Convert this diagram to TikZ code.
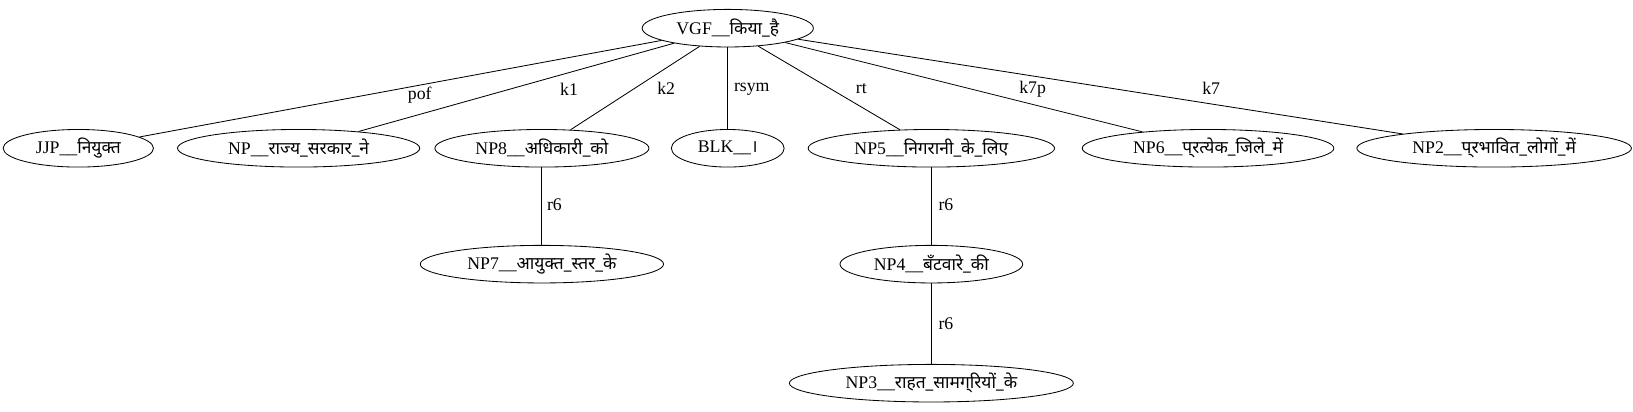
\documentclass[tikz,border=0pt]{standalone}
\usepackage{fontspec}
\setmainfont{Liberation Serif}
\newfontfamily\devfont[Script=Devanagari, Scale=0.98]{Noto Sans}
\newcommand{\dev}[1]{{\devfont #1}}
\usetikzlibrary{shapes.geometric}
\tikzstyle{tok} = [ellipse, draw, line width = 0.8pt, minimum height = 36pt, inner sep = 1pt, font = \fontsize{17}{19}\selectfont]
\tikzstyle{line} = [line width = 0.8pt]
\tikzstyle{rel} = [inner sep = 0pt, font = \fontsize{17}{19}\selectfont]

\begin{document}
\begin{tikzpicture}[x = 1pt, y = -1pt]
        \useasboundingbox (0,0) rectangle (1564,394);
        \node (JJP) [tok, minimum width = 144pt] at (75,142) {JJP\_\_\dev{नियुक्त}};
        \node (NP) [tok, right of = JJP, node distance = 211pt, minimum width = 232pt] {NP\_\_\dev{राज्य\_सरकार\_ने}};
        \node (NP8) [tok, right of = NP, node distance = 233pt, minimum width = 205pt] {NP8\_\_\dev{अधिकारी\_को}};
        \node (BLK) [tok, right of = NP8, node distance = 178pt, minimum width = 108pt] {BLK\_\_\dev{।}};
        \node (NP5) [tok, right of = BLK, node distance = 195pt, minimum width = 236pt] {NP5\_\_\dev{निगरानी\_के\_लिए}};
        \node (NP6) [tok, right of = NP5, node distance = 265pt, minimum width = 241pt] {NP6\_\_\dev{प्\kern0pt रत्येक\_जिले\_में}};
        \node (NP2) [tok, right of = NP6, node distance = 274pt, minimum width = 263pt] {NP2\_\_\dev{प्\kern0pt रभावित\_लोगों\_में}};
        \node (VGF) [tok, above of = BLK, node distance = 115pt, minimum width = 164pt] {VGF\_\_\dev{किया\_है}};
        \node (NP7) [tok, below of = NP8, node distance = 111pt, minimum width = 233pt] {NP7\_\_\dev{आयुक्त\_स्तर\_के}};
        \node (NP4) [tok, below of = NP5, node distance = 111pt, minimum width = 175pt] {NP4\_\_\dev{बँटवारे\_की}};
        \node (NP3) [tok, below of = NP4, node distance = 114pt, minimum width = 272pt] {NP3\_\_\dev{राहत\_सामग्\kern0pt रियों\_के}};
        % relations
        \draw[line] (VGF) -- (JJP);
        \draw[line] (VGF) -- (NP);
        \draw[line] (VGF) -- (NP8);
        \draw[line] (VGF) -- (BLK);
        \draw[line] (VGF) -- (NP5);
        \draw[line] (VGF) -- (NP6);
        \draw[line] (VGF) -- (NP2);
        \draw[line] (NP8) -- (NP7);
        \draw[line] (NP5) -- (NP4);
        \draw[line] (NP4) -- (NP3);
        % relation labels
        \node (lpof) [rel] at (402,91) {pof};
        \node (lkone) [rel] at (545,86) {k1};
        \node (lktwo) [rel] at (638,85) {k2};
        \node (lrsym) [rel] at (720,85) {rsym};
        \node (lrt) [rel] at (825,85) {rt};
        \node (lksevenp) [rel] at (989,85) {k7p};
        \node (lkseven) [rel] at (1160,85) {k7};
        \node (lrsixa) [rel] at (531,196) {r6};
        \node (lrsixb) [rel] at (906,196) {r6};
        \node (lrsixc) [rel] at (906,310) {r6};
    \end{tikzpicture}
\end{document}
